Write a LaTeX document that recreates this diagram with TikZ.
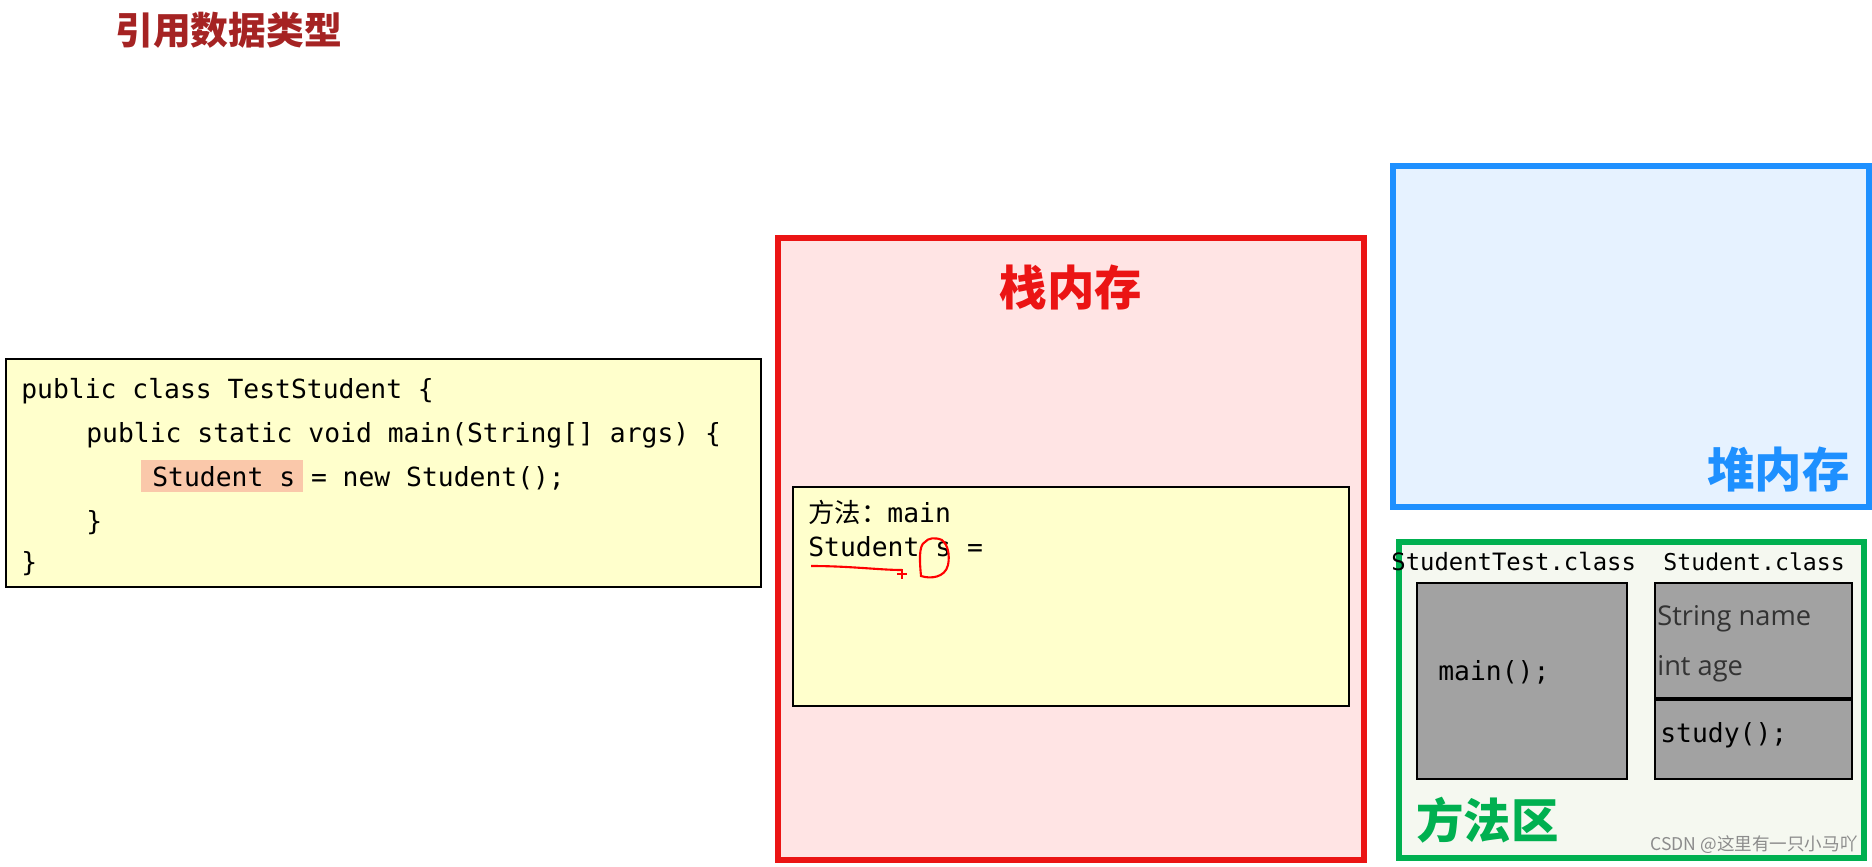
\documentclass[tikz,border=0pt]{standalone}
\usepackage{fontspec}
\setmainfont{Open Sans}
\setmonofont{DejaVu Sans Mono}
\newfontfamily\cjk{Noto Sans CJK SC}
\usetikzlibrary{positioning}
\definecolor{titlered}{RGB}{165,35,35}
\definecolor{stackred}{RGB}{235,20,20}
\definecolor{stackfill}{RGB}{255,228,228}
\definecolor{codefill}{RGB}{255,255,204}
\definecolor{heapblue}{RGB}{30,144,255}
\definecolor{heapfill}{RGB}{230,242,255}
\definecolor{methgreen}{RGB}{0,176,80}
\definecolor{methfill}{RGB}{245,248,240}
\definecolor{markfill}{RGB}{250,200,170}
\definecolor{classgray}{RGB}{162,162,162}

\tikzset{
  code/.style={anchor=base west,inner sep=0pt,font=\fontsize{15}{17}\ttfamily},
  area/.style={font=\fontsize{27}{30}\cjk\bfseries,inner sep=0pt},
  classbox/.style={draw=black,line width=1.5pt,fill=classgray}
}

\begin{document}
\begin{tikzpicture}[x=0.02cm,y=-0.02cm]
\useasboundingbox (0,0) rectangle (1872,866);

\node[anchor=west,inner sep=0pt,titlered,font=\fontsize{21.5}{24}\cjk\bfseries] (title) at (115,30) {引用数据类型};

% source code
\draw[fill=codefill,line width=1.2pt] (6,359) rectangle (761,587);
\fill[markfill] (141,460) rectangle (303,492);
\node[code] (l1) at (21,398) {public class TestStudent \{};
\node[code] (l2) at (86,442) {public static void main(String[] args) \{};
\node[code] (l3) at (152,486) {Student s = new Student();};
\node[code] (l4) at (86,530) {\}};
\node[code] (l5) at (21,571) {\}};

% stack
\draw[stackred,fill=stackfill,line width=3pt] (778,238) rectangle (1364,860);
\node[area,stackred] (stack) at (1071,287) {栈内存};
\draw[fill=codefill,line width=1.2pt] (793,487) rectangle (1349,706);
\node[code] (f1) at (808,522) {{\cjk 方法：}main};
\node[code] (f2) at (808,556) {Student s =};
\draw[red,line width=1.2pt] (811,566) .. controls (850,566) and (880,570) .. (902,570);
\draw[red,line width=1pt] (897,574) -- (907,574) (902,569) -- (902,579);
\draw[red,line width=1.2pt] (925,542) .. controls (918,545) and (920,565) .. (921,576)
  .. controls (930,579) and (945,578) .. (948,565) .. controls (950,555) and (948,545) .. (942,540)
  .. controls (935,537) and (928,538) .. (925,542);

% heap
\draw[heapblue,fill=heapfill,line width=3pt] (1393,166) rectangle (1869,507);
\node[area,heapblue,anchor=east] (heap) at (1850,469) {堆内存};

% method area
\draw[methgreen,fill=methfill,line width=3pt] (1399,542) rectangle (1864,858);
\node[anchor=base west,inner sep=0pt,font=\fontsize{13.6}{15}\ttfamily] (tcls) at (1391,570) {StudentTest.class};
\node[anchor=base west,inner sep=0pt,font=\fontsize{13.2}{15}\ttfamily] (scls) at (1663,570) {Student.class};
\draw[classbox] (1417,583) rectangle (1627,779);
\node[code] (mainm) at (1438,680) {main();};
\draw[classbox] (1655,583) rectangle (1852,779);
\draw[line width=2pt] (1655,699) -- (1852,699);
\node[anchor=base west,inner sep=0pt,font=\fontsize{15.5}{17}\selectfont,black!80] (fname) at (1657,625) {String name};
\node[anchor=base west,inner sep=0pt,font=\fontsize{15.5}{17}\selectfont,black!80] (fage) at (1657,675) {int age};
\node[code] (study) at (1660,742) {study();};
\node[area,methgreen,anchor=west] (meth) at (1416,820) {方法区};
\node[anchor=east,inner sep=0pt,black!45,font=\fontsize{10}{12}\cjk] (mark) at (1858,845) {CSDN @这里有一只小马吖};
\end{tikzpicture}
\end{document}
